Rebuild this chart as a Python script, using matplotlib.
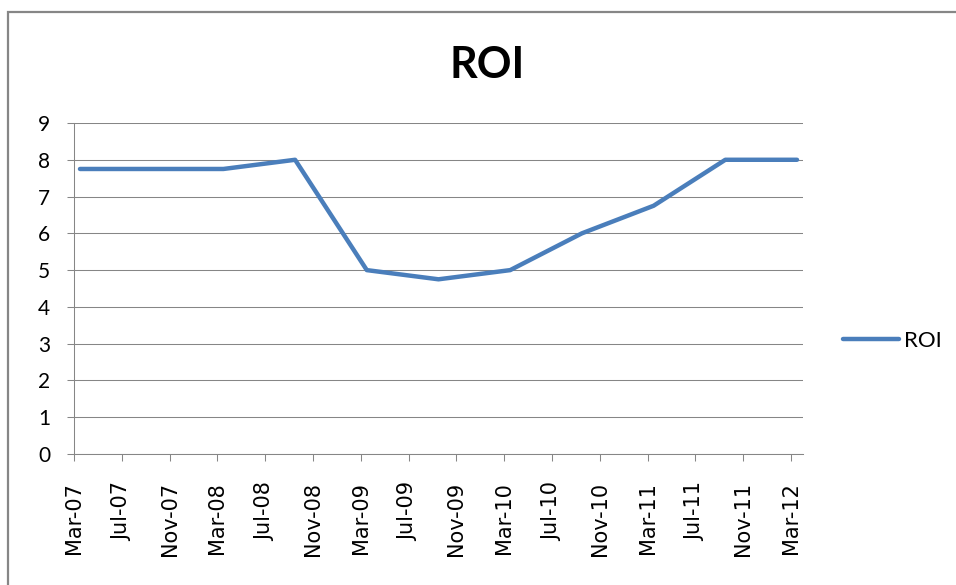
import matplotlib
matplotlib.use("Agg")
import matplotlib.pyplot as plt
from matplotlib.lines import Line2D
from matplotlib.transforms import ScaledTranslation

# ---------------- data ----------------
periods = ["Mar-07", "Sep-07", "Mar-08", "Sep-08", "Mar-09", "Sep-09",
           "Mar-10", "Sep-10", "Mar-11", "Sep-11", "Mar-12"]
roi = [7.75, 7.75, 7.75, 8.0, 5.0, 4.75, 5.0, 6.0, 6.75, 8.0, 8.0]
x_tick_labels = ["Mar-07", "Jul-07", "Nov-07", "Mar-08", "Jul-08", "Nov-08",
                 "Mar-09", "Jul-09", "Nov-09", "Mar-10", "Jul-10", "Nov-10",
                 "Mar-11", "Jul-11", "Nov-11", "Mar-12"]
y_ticks = [0, 1, 2, 3, 4, 5, 6, 7, 8, 9]
series_name = "ROI"
title = "ROI"

MONTHS = ["Jan", "Feb", "Mar", "Apr", "May", "Jun",
          "Jul", "Aug", "Sep", "Oct", "Nov", "Dec"]


def month_index(label):
    """Months elapsed since Mar-07 (date-axis position)."""
    m, y = label.split("-")
    return (2000 + int(y) - 2007) * 12 + MONTHS.index(m) - 2


# Excel date axis: each value sits in the middle of its month slot
x_vals = [month_index(p) + 0.5 for p in periods]
x_ticks = [month_index(t) for t in x_tick_labels]

W, H, DPI = 956, 585, 100
fig = plt.figure(figsize=(W / DPI, H / DPI), dpi=DPI)
fig.patch.set_facecolor("white")

grey = "#868686"
blue = "#4a7ebb"
label_font = ["Lato", "DejaVu Sans"]

# chart-area frame (left and top edges visible)
fig.add_artist(Line2D([8 / W, 8 / W, 1.0], [0.0, 1 - 12 / H, 1 - 12 / H],
                      transform=fig.transFigure, color=grey, lw=1.6,
                      solid_joinstyle="miter"))

ax = fig.add_axes([74 / W, 1 - 454 / H, (803 - 74) / W, (454 - 123) / H])
ax.set_xlim(0, 61)
ax.set_ylim(0, 9)

ax.plot(x_vals, roi, color=blue, lw=3.2, solid_capstyle="round",
        solid_joinstyle="round", label=series_name, zorder=3)

ax.set_yticks(y_ticks)
ax.set_yticklabels([str(v) for v in y_ticks], fontsize=15, family=label_font,
                   color="#000000")
ax.set_xticks(x_ticks)
ax.set_xticklabels(x_tick_labels, rotation=90, fontsize=15,
                   family="DejaVu Sans", color="#000000", va="top")

offset = ScaledTranslation(9 / DPI, 0, fig.dpi_scale_trans)
for lbl in ax.get_xticklabels():
    lbl.set_transform(lbl.get_transform() + offset)

ax.tick_params(axis="y", length=5, width=0.75, color=grey, pad=12)
ax.tick_params(axis="x", length=5, width=0.75, color=grey, pad=15)

ax.grid(axis="y", color=grey, lw=0.75)
ax.set_axisbelow(True)
for s in ["top", "right"]:
    ax.spines[s].set_visible(False)
for s in ["left", "bottom"]:
    ax.spines[s].set_color(grey)
    ax.spines[s].set_linewidth(0.75)

fig.text(487 / W, 1 - 78 / H, title, ha="center", va="baseline",
         fontsize=31, fontweight="bold", family=label_font)

leg = ax.legend(loc="center left", bbox_to_anchor=(843 / W, 1 - 341 / H),
                bbox_transform=fig.transFigure, frameon=False, borderpad=0,
                borderaxespad=0, handlelength=2.5, handletextpad=0.25,
                prop={"family": label_font, "size": 16})
for h in leg.get_lines():
    h.set_solid_capstyle("round")

fig.savefig("out.png", dpi=DPI)
